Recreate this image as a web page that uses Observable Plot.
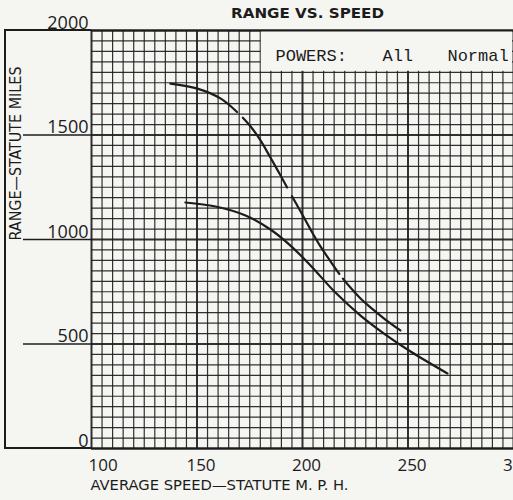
<!DOCTYPE html>
<html><head><meta charset="utf-8">
<script src="https://cdn.jsdelivr.net/npm/d3@7"></script>
<script src="https://cdn.jsdelivr.net/npm/@observablehq/plot@0.6"></script>
<style>html,body{margin:0;padding:0;background:#f5f5f2;}</style>
</head><body><div id="chart"></div>
<script>
const title = "RANGE VS. SPEED";
const xTitle = "AVERAGE SPEED\u2014STATUTE M. P. H.";
const yTitle = "RANGE\u2014STATUTE MILES";
const xTickLabels = [150, 200, 250, 300];
const xFirstLabel = [100];
const yTickLabels = [0, 500, 1000, 1500, 2000];
const yTickLines = [500, 1000, 1500];
const xGrid = d3.range(100, 301, 5);
const yGrid = d3.range(0, 2001, 50);
const legendWords = ["POWERS:", "All", "Normal"];
const legendX = [187.2, 237.9, 268.7];
const legendY = 1856;
const legendBox = [{x1: 180, x2: 300, y1: 1800, y2: 2000}];

const speedUpper = [137.4, 150.2, 161.1, 169.2, 175.4, 180.1, 184.8, 189.6, 194.3, 199.1, 203.8, 208.5, 213.3, 218, 222.7, 227.5, 232.2, 239.3, 246.4];
const rangeUpper = [1746, 1722, 1675, 1608, 1541, 1474, 1392, 1306, 1220, 1134, 1048, 967, 895, 828, 770, 718, 675, 617, 565];
const speedLower = [144.5, 158.8, 173, 184.8, 194.3, 203.8, 215.6, 227.5, 239.3, 251.2, 268.7];
const rangeLower = [1177, 1158, 1115, 1048, 971, 876, 746, 636, 545, 464, 359];

const upper = speedUpper.map((s, i) => ({speed: s, range: rangeUpper[i]}));
const lower = speedLower.map((s, i) => ({speed: s, range: rangeLower[i]}));
const legend = legendWords.map((w, i) => ({word: w, x: legendX[i], y: legendY}));

const ink = "#1c1c1c";
const paper = "#f5f5f2";
const numFont = "'Open Sans', sans-serif";

const plot = Plot.plot({
  width: 513,
  height: 500,
  marginLeft: 91,
  marginRight: 0,
  marginTop: 30,
  marginBottom: 52,
  style: {background: paper, color: ink, overflow: "hidden"},
  x: {domain: [100, 300], axis: null},
  y: {domain: [0, 2000], axis: null},
  marks: [
    Plot.ruleX(xGrid, {x: d => d, stroke: ink, strokeWidth: d => d % 50 === 0 ? 2 : 1.2, strokeOpacity: 0.9}),
    Plot.ruleY(yGrid, {y: d => d, stroke: ink, strokeWidth: d => d % 500 === 0 ? 2 : 1.2, strokeOpacity: 0.9}),
    Plot.rect(legendBox, {x1: "x1", x2: "x2", y1: "y1", y2: "y2", fill: paper, inset: 1}),
    Plot.ruleY([0, 2000], {stroke: ink, strokeWidth: 2}),
    Plot.axisY(yTickLines, {tickSize: 68, tickFormat: () => "", stroke: ink, strokeWidth: 1.6}),
    () => d3.create("svg:path")
      .attr("d", "M5,449V30H91M5,448H91")
      .attr("fill", "none").attr("stroke", ink).attr("stroke-width", 2).node(),
    Plot.line(upper, {x: "speed", y: "range", curve: "catmull-rom", stroke: ink, strokeWidth: 2.2,
      strokeDasharray: "74,8,83,10,91,6,300"}),
    Plot.line(lower, {x: "speed", y: "range", curve: "catmull-rom", stroke: ink, strokeWidth: 2.2}),
    Plot.text(legend, {x: "x", y: "y", text: "word", textAnchor: "start", lineAnchor: "bottom",
      fontFamily: "'Liberation Mono', monospace", fontSize: 17, fill: ink}),
    Plot.text(yTickLabels, {y: d => d, text: d => String(d), frameAnchor: "left", dx: -3, dy: -2,
      textAnchor: "end", lineAnchor: "bottom", fontFamily: numFont, fontSize: 18, fill: ink}),
    Plot.text(xTickLabels, {x: d => d, text: d => String(d), frameAnchor: "bottom", dy: 22, dx: 4,
      lineAnchor: "bottom", fontFamily: numFont, fontSize: 17, fill: ink}),
    Plot.text(xFirstLabel, {x: d => d, text: d => String(d), frameAnchor: "bottom", dy: 22, dx: -3,
      textAnchor: "start", lineAnchor: "bottom", fontFamily: numFont, fontSize: 17, fill: ink}),
    Plot.text([title], {frameAnchor: "top", dx: 5, dy: -13, lineAnchor: "bottom",
      fontFamily: "'DejaVu Sans', sans-serif", fontWeight: "bold", fontSize: 14, fill: ink}),
    Plot.text([xTitle], {frameAnchor: "bottom-left", dx: -1, dy: 41, textAnchor: "start", lineAnchor: "bottom",
      fontFamily: "'DejaVu Sans Condensed', 'DejaVu Sans', sans-serif", fontSize: 14, fill: ink}),
    Plot.text([yTitle], {frameAnchor: "left", dx: -76, dy: 1, rotate: -90,
      fontFamily: "'DejaVu Sans Condensed', 'DejaVu Sans', sans-serif", fontSize: 16, fill: ink})
  ]
});

const widths = {[title]: 153, [xTitle]: 258, [yTitle]: 174};
d3.select(plot).selectAll("text").each(function() {
  const t = this.textContent;
  if (widths[t]) {
    d3.select(this).attr("textLength", widths[t]).attr("lengthAdjust", "spacingAndGlyphs");
  }
});
document.getElementById("chart").append(plot);
</script>
</body></html>
